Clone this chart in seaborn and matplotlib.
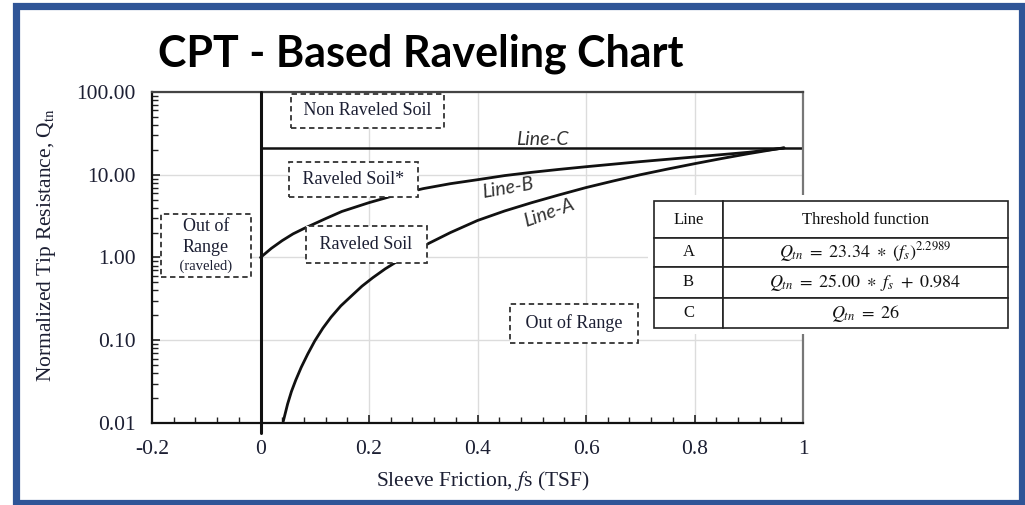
import matplotlib
matplotlib.use("Agg")
import matplotlib.pyplot as plt
from matplotlib.patches import Rectangle
from matplotlib.offsetbox import TextArea, VPacker, AnnotationBbox
from matplotlib.ticker import FixedLocator, LogLocator, NullFormatter, MultipleLocator
import numpy as np
import seaborn as sns

# ---------------- data ----------------
line_a_fs = [0.042, 0.05, 0.057, 0.065, 0.075, 0.087, 0.10, 0.115, 0.13, 0.148, 0.167,
             0.187, 0.207, 0.23, 0.25, 0.28, 0.31, 0.35, 0.40, 0.45, 0.50, 0.55, 0.60,
             0.65, 0.70, 0.75, 0.80, 0.85, 0.90, 0.965]
line_a_q = [0.0105, 0.017, 0.024, 0.033, 0.047, 0.068, 0.098, 0.14, 0.19, 0.26, 0.34,
            0.45, 0.57, 0.73, 0.88, 1.15, 1.48, 2.0, 2.8, 3.65, 4.6, 5.7, 7.0,
            8.4, 10.0, 11.7, 13.6, 15.7, 18.0, 21.2]

line_b_fs = [0.0, 0.02, 0.04, 0.06, 0.08, 0.10, 0.12, 0.15, 0.20, 0.25, 0.30, 0.35,
             0.40, 0.45, 0.50, 0.55, 0.60, 0.70, 0.80, 0.90, 0.965]
line_b_q = [1.0, 1.29, 1.60, 1.93, 2.24, 2.57, 2.95, 3.6, 4.6, 5.7, 6.8, 7.8,
            8.71, 9.77, 10.7, 11.6, 12.5, 14.4, 16.4, 18.7, 21.0]

line_c_fs = [0.0, 1.0]
line_c_q = [21.0, 21.0]

x_ticks = [-0.2, 0, 0.2, 0.4, 0.6, 0.8, 1.0]
x_tick_labels = ["-0.2", "0", "0.2", "0.4", "0.6", "0.8", "1"]
y_ticks = [0.01, 0.1, 1, 10, 100]
y_tick_labels = ["0.01", "0.10", "1.00", "10.00", "100.00"]

table_lines = ["A", "B", "C"]
table_funcs = [r"$Q_{tn}\ =\ 23.34\ \ast\ (f_s)^{2.2989}$",
               r"$Q_{tn}\ =\ 25.00\ \ast\ f_s\ +\ 0.984$",
               r"$Q_{tn}\ =\ 26$"]

title = "CPT - Based Raveling Chart"
x_label = r"Sleeve Friction, $f$s (TSF)"
y_label = r"Normalized Tip Resistance, Q$_{\mathrm{tn}}$"

# ---------------- style ----------------
sns.set_style("white")
plt.rcParams["font.family"] = ["Liberation Serif", "DejaVu Serif"]
plt.rcParams["mathtext.fontset"] = "stix"

W, H = 1025, 505
fig = plt.figure(figsize=(W / 100, H / 100), dpi=100)
fig.patch.set_facecolor("white")


def fx(px):
    return px / W


def fy(py):
    return 1 - py / H


AX_L, AX_R, AX_T, AX_B = 152, 803, 92, 423
ax = fig.add_axes([fx(AX_L), fy(AX_B), (AX_R - AX_L) / W, (AX_B - AX_T) / H])
ax.set_yscale("log")
ax.set_xlim(-0.2, 1.0)
ax.set_ylim(0.01, 100)

ax.grid(True, which="major", color="#dcdcdc", lw=1.0)
ax.set_axisbelow(True)

line_kw = dict(color="#111111", estimator=None, sort=False, ax=ax, legend=False)
sns.lineplot(x=line_a_fs, y=line_a_q, lw=2.0, **line_kw)
sns.lineplot(x=line_b_fs, y=line_b_q, lw=2.0, **line_kw)
sns.lineplot(x=line_c_fs, y=line_c_q, lw=1.8, **line_kw)
ax.axvline(0, ymin=-0.03, ymax=1, color="#111111", lw=2.2, clip_on=False, zorder=3)

# ticks
ax.xaxis.set_major_locator(FixedLocator(x_ticks))
ax.set_xticklabels(x_tick_labels)
ax.xaxis.set_minor_locator(MultipleLocator(0.04))
ax.yaxis.set_major_locator(FixedLocator(y_ticks))
ax.set_yticklabels(y_tick_labels)
ax.yaxis.set_minor_locator(LogLocator(base=10, subs=np.arange(2, 10)))
ax.yaxis.set_minor_formatter(NullFormatter())

txt_color = "#1c1f33"
ax.tick_params(axis="both", which="major", direction="in", length=6, width=1.2,
               color="#222222", labelsize=15.5, labelcolor=txt_color)
ax.tick_params(axis="both", which="minor", direction="in", length=4, width=1.0, color="#222222")
ax.tick_params(axis="x", which="major", pad=12)
ax.tick_params(axis="y", which="major", pad=12, left=True)
ax.tick_params(axis="y", which="minor", left=True)
ax.tick_params(axis="x", which="both", bottom=True)

for s in ["left", "bottom"]:
    ax.spines[s].set_color("#111111")
    ax.spines[s].set_linewidth(1.6)
ax.spines["top"].set_color("#444444")
ax.spines["top"].set_linewidth(1.6)
ax.spines["right"].set_color("#777777")
ax.spines["right"].set_linewidth(1.6)

ax.set_xlabel(x_label, fontsize=15.5, color=txt_color)
ax.set_ylabel(y_label, fontsize=15.5, color=txt_color)
ax.xaxis.set_label_coords((483 - AX_L) / (AX_R - AX_L), (AX_B - 481) / (AX_B - AX_T))
ax.yaxis.set_label_coords((47 - AX_L) / (AX_R - AX_L), (AX_B - 245) / (AX_B - AX_T))
ax.xaxis.label.set_va("center")
ax.yaxis.label.set_va("center")

# region boxes
box_kw = dict(boxstyle="square,pad=0.45", fc="white", ec="#333333", ls=(0, (3, 2)), lw=1.3)
ax.text(0.198, 59, " Non Raveled Soil ", ha="center", va="center", fontsize=13,
        color=txt_color, bbox=box_kw)
ax.text(0.172, 8.7, " Raveled Soil* ", ha="center", va="center", fontsize=13,
        color=txt_color, bbox=dict(box_kw, boxstyle="square,pad=0.5"))
ax.text(0.195, 1.43, " Raveled Soil ", ha="center", va="center", fontsize=13,
        color=txt_color, bbox=dict(box_kw, boxstyle="square,pad=0.55"))
ax.text(0.578, 0.16, " Out of Range ", ha="center", va="center", fontsize=13,
        color=txt_color, bbox=dict(box_kw, boxstyle="square,pad=0.6"))

tp = dict(fontsize=13, color=txt_color)
vp = VPacker(children=[TextArea("Out of", textprops=tp),
                       TextArea("Range", textprops=tp),
                       TextArea("    (raveled)    ", textprops=dict(fontsize=10.5, color=txt_color))],
             align="center", pad=0, sep=2.5)
ab = AnnotationBbox(vp, (-0.101, 1.40), xycoords="data", frameon=True, pad=1.25, fontsize=10,
                    bboxprops=dict(boxstyle="square", fc="white", ec="#333333",
                                   ls=(0, (3, 2)), lw=1.3))
ax.add_artist(ab)

# line labels
lab_kw = dict(family=["Lato", "DejaVu Sans"], style="italic", fontsize=14,
              color="#333333", ha="center", va="center")
ax.text(0.519, 26.4, "Line-C", **lab_kw)
ax.text(0.455, 7.0, "Line-B", rotation=10, **lab_kw)
ax.text(0.532, 3.5, "Line-A", rotation=20, **lab_kw)

# title
fig.text(fx(158), fy(66), title, ha="left", va="baseline", fontsize=31,
         fontweight="bold", family=["Lato", "DejaVu Sans"], color="black")

# table (white patch covering the plot beneath it)
tax = fig.add_axes([fx(648), fy(334), (1013 - 648) / W, (334 - 195) / H])
tax.set_facecolor("white")
tax.set_xticks([])
tax.set_yticks([])
for s in tax.spines.values():
    s.set_visible(False)
tx0 = (654 - 648) / (1013 - 648)
tx1 = (1008 - 648) / (1013 - 648)
ty0 = (334 - 328) / (334 - 195)
ty1 = (334 - 201) / (334 - 195)
cells = [["Line", "Threshold function"]] + [[l, f] for l, f in zip(table_lines, table_funcs)]
tbl = tax.table(cellText=cells, colWidths=[69, 285], cellLoc="center",
                bbox=[tx0, ty0, tx1 - tx0, ty1 - ty0])
tbl.auto_set_font_size(False)
row_h = [37, 29, 31, 30]
for (r, c), cell in tbl.get_celld().items():
    cell.set_height(row_h[r])
    cell.set_edgecolor("#222222")
    cell.set_linewidth(1.2)
    cell.get_text().set_fontsize(13 if (c == 1 and r > 0) else 12)
    cell.get_text().set_color("#111111")

# blue frame
fig.patches.append(Rectangle((fx(16), fy(502.5)), fx(1022) - fx(16), fy(6) - fy(502.5),
                             transform=fig.transFigure, fill=False, ec="#2f5597", lw=5.2))

fig.savefig("out.png", dpi=100)
